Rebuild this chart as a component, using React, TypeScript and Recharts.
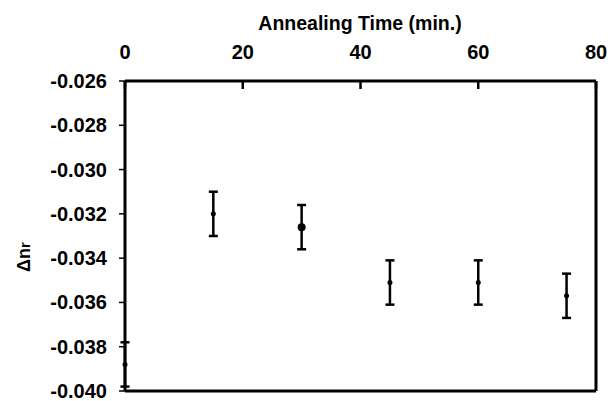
import React from 'react';
import { ScatterChart, Scatter, XAxis, YAxis, ErrorBar, ReferenceLine } from 'recharts';

const times = [0, 15, 30, 45, 60, 75];
const dn = [-0.0388, -0.032, -0.0326, -0.0351, -0.0351, -0.0357];
const errs = [0.001, 0.001, 0.001, 0.001, 0.001, 0.001];

const xTicks = [0, 20, 40, 60, 80];
const yTicks = [-0.04, -0.038, -0.036, -0.034, -0.032, -0.03, -0.028, -0.026];

const xTitle = 'Annealing Time (min.)';

const data = times.map((t, i) => ({ t, dn: dn[i], err: errs[i] }));

const FONT = '"Liberation Sans", Arial, Helvetica, sans-serif';

const XTick = (props: any) => {
  const { x, y, payload } = props;
  return (
    <g>
      <line x1={x} x2={x} y1={y + 29} y2={y + 37} stroke="#000" strokeWidth={2.5} />
      <text x={x} y={y} textAnchor="middle" dominantBaseline="central" fontFamily={FONT} fontWeight="bold" fontSize={20} fill="#000">
        {payload.value}
      </text>
    </g>
  );
};

const YTick = (props: any) => {
  const { x, y, payload } = props;
  return (
    <text x={x} y={y} textAnchor="end" dominantBaseline="central" fontFamily={FONT} fontWeight="bold" fontSize={20} fill="#000">
      {Number(payload.value).toFixed(3)}
    </text>
  );
};

const Dot = (props: any) => {
  const { cx, cy, index } = props;
  return <circle cx={cx} cy={cy} r={index === 2 ? 4 : 2.5} fill="#000" />;
};

export default function App() {
  return (
    <div style={{ position: 'absolute', left: 0, top: 0, background: '#fff' }}>
      <ScatterChart width={610} height={401} margin={{ top: 0, right: 14, bottom: 10, left: 0 }}>
        <XAxis
          dataKey="t"
          type="number"
          orientation="top"
          domain={[0, 80]}
          ticks={xTicks}
          height={81}
          axisLine={{ stroke: '#000', strokeWidth: 3 }}
          tickLine={false}
          tickSize={-7}
          tickMargin={36}
          tick={<XTick />}
          interval={0}
          label={{
            content: () => (
              <text x={360} y={23} textAnchor="middle" dominantBaseline="central" fontFamily={FONT} fontWeight="bold" fontSize={19.5} fill="#000">
                {xTitle}
              </text>
            ),
          }}
        />
        <YAxis
          dataKey="dn"
          type="number"
          domain={[-0.04, -0.026]}
          ticks={yTicks}
          width={125}
          axisLine={{ stroke: '#000', strokeWidth: 3 }}
          tickLine={{ stroke: '#000', strokeWidth: 1.5 }}
          tickSize={6}
          tickMargin={12}
          tick={<YTick />}
          interval={0}
          label={{
            content: () => (
              <text x={24} y={257} transform="rotate(-90 24 257)" textAnchor="middle" dominantBaseline="central" fontFamily={FONT} fontWeight="bold" fontSize={18} fill="#000">
                Δn<tspan fontSize={15}>r</tspan>
              </text>
            ),
          }}
        />
        <ReferenceLine x={80} stroke="#000" strokeWidth={3} />
        <ReferenceLine y={-0.04} stroke="#000" strokeWidth={3} />
        <Scatter data={data} shape={<Dot />} isAnimationActive={false}>
          <ErrorBar dataKey="err" direction="y" width={4.5} stroke="#000" strokeWidth={2.5} />
        </Scatter>
      </ScatterChart>
    </div>
  );
}
